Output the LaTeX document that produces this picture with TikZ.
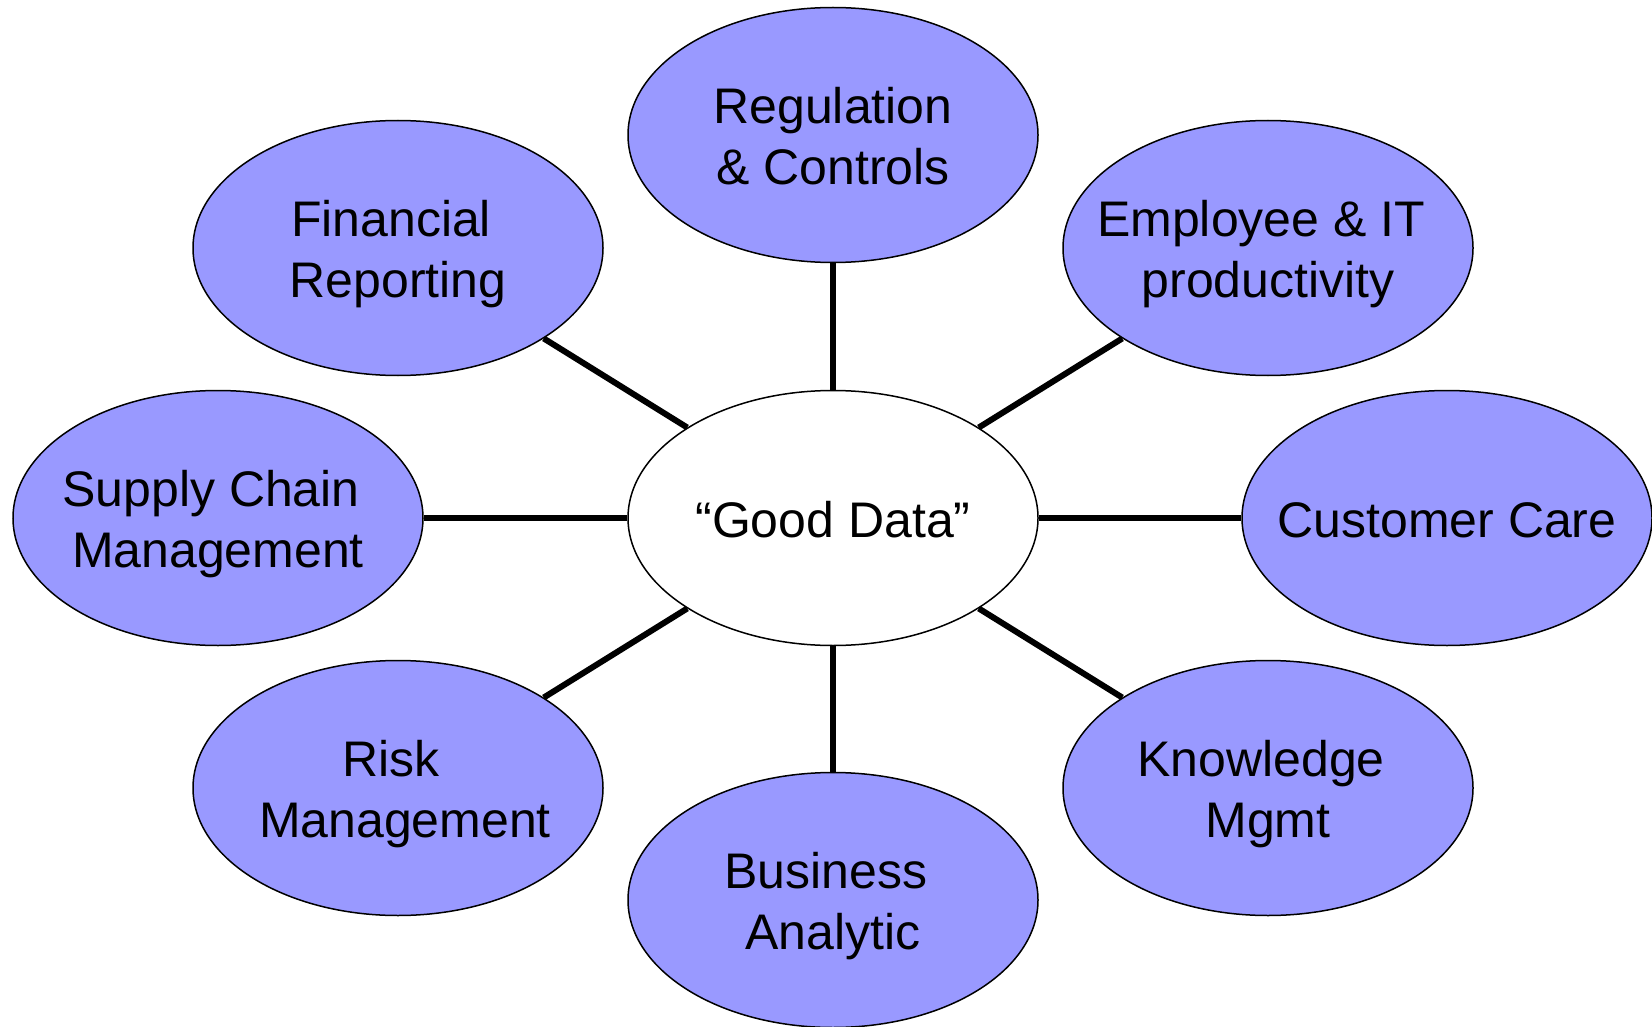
\documentclass[tikz,border=0pt]{standalone}
\usepackage{fontspec}
\setmainfont{Liberation Sans}
\usetikzlibrary{shapes.geometric}
\definecolor{bubble}{HTML}{9999FF}
\newcommand\lnstrut{\rule[-11pt]{0pt}{60pt}}
\newcommand\trsp{\hbox to 13.9pt{}}
\begin{document}
\begin{tikzpicture}[x=1pt,y=-1pt,
  bub/.style={ellipse,draw=black,line width=1.5pt,fill=bubble,minimum width=410pt,minimum height=255pt,inner sep=0pt},
  ctr/.style={bub,fill=white},
  lbl/.style={align=center,inner sep=0pt,font=\fontsize{50}{61}\selectfont},
  link/.style={line width=6pt,draw=black}]
\useasboundingbox (0,0) rectangle (1652,1027);
\node[ctr] (c) at (833,518) {};
\node[bub] (reg) at (833,135) {};
\node[bub] (fin) at (398,248) {};
\node[bub] (emp) at (1268,248) {};
\node[bub] (sup) at (218,518) {};
\node[bub] (cus) at (1447,518) {};
\node[bub] (risk) at (398,788) {};
\node[bub] (kno) at (1268,788) {};
\node[bub] (bus) at (833,900) {};
\foreach \n in {reg,fin,emp,sup,cus,risk,kno,bus} \draw[link] (c) -- (\n);
\node[lbl] (cT) at (c) {\lnstrut “Good Data”};
\node[lbl] (regT) at (reg) {\lnstrut Regulation\\\lnstrut\& Controls};
\node[lbl] (finT) at (fin) {\lnstrut Financial\trsp\\\lnstrut Reporting};
\node[lbl] (empT) at (emp) {\lnstrut Employee \& IT\trsp\\\lnstrut productivity};
\node[lbl] (supT) at (sup) {\lnstrut Supply Chain\trsp\\\lnstrut Management};
\node[lbl] (cusT) at (cus) {\lnstrut Customer Care};
\node[lbl] (riskT) at (risk) {\lnstrut Risk\trsp\\\lnstrut\trsp Management};
\node[lbl] (knoT) at (kno) {\lnstrut Knowledge\trsp\\\lnstrut Mgmt};
\node[lbl] (busT) at (bus) {\lnstrut Business\trsp\\\lnstrut Analytic};
\end{tikzpicture}
\end{document}
